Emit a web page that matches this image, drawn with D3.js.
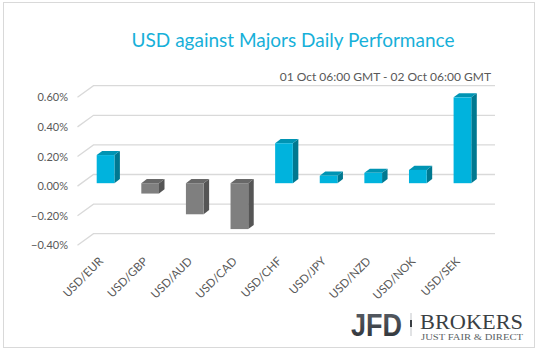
<!DOCTYPE html>
<html>
<head>
<meta charset="utf-8">
<script src="https://cdn.jsdelivr.net/npm/d3@7"></script>
<style>
  body { margin: 0; background: #fff; }
  svg { display: block; }
</style>
</head>
<body>
<div id="chart"><svg width="538" height="351"></svg></div>
<script>
const pairs = ['USD/EUR', 'USD/GBP', 'USD/AUD', 'USD/CAD', 'USD/CHF', 'USD/JPY', 'USD/NZD', 'USD/NOK', 'USD/SEK']
const changes = [0.19, -0.07, -0.21, -0.31, 0.27, 0.05, 0.07, 0.09, 0.58]
const yTicks = [-0.4, -0.2, 0, 0.2, 0.4, 0.6]

const svg = d3.select('#chart svg')
const font = 'Lato, "Open Sans", sans-serif'

// 3d offset of the back wall relative to the front edge
const depthX = 16
const depthY = -11.6

// outer frame
svg.append('rect')
    .attr('x', 3.5).attr('y', 2.5)
    .attr('width', 531).attr('height', 345)
    .attr('fill', '#fff')
    .attr('stroke', '#d9d9d9')

svg.append('text')
    .text('USD against Majors Daily Performance')
    .attr('x', 293).attr('y', 47)
    .attr('text-anchor', 'middle')
    .style('font-family', font)
    .style('font-size', '19px')
    .style('fill', '#17b0d9')

svg.append('text')
    .text('01 Oct 06:00 GMT - 02 Oct 06:00 GMT')
    .attr('x', 491).attr('y', 81)
    .attr('text-anchor', 'end')
    .style('font-family', font)
    .style('font-size', '12px')
    .style('fill', '#595959')

// front edge scales
const xScale = d3.scaleBand()
    .domain(pairs)
    .range([77.5, 479])

const yScale = d3.scaleLinear()
    .domain([-0.4, 0.6])
    .range([245.3, 97.3])

// gridlines: back wall line plus diagonal to the front edge
const grid = svg.append('g')
grid.selectAll('polyline')
    .data(yTicks)
    .join('polyline')
    .attr('points', d => {
        const y = yScale(d)
        return [[77.5, y], [77.5 + depthX, y + depthY], [479 + depthX, y + depthY]].join(' ')
    })
    .attr('fill', 'none')
    .attr('stroke', '#d9d9d9')
    .attr('stroke-width', 1.3)

svg.append('g')
    .selectAll('text')
    .data(yTicks)
    .join('text')
    .text(d => d3.format('.2f')(d) + '%')
    .attr('x', 68)
    .attr('y', d => yScale(d) + 4)
    .attr('text-anchor', 'end')
    .style('font-family', font)
    .style('font-size', '11px')
    .style('fill', '#595959')

// bars
const barW = 17.7
const barDx = 5.5
const barDy = -4.2
const barOffX = 19.2
const barOffY = -2.9

const colors = {
    up: { front: '#00b3dd', side: '#007890', top: '#0094b3' },
    down: { front: '#7f7f7f', side: '#555555', top: '#686868' }
}

const bars = svg.append('g')
    .selectAll('g')
    .data(changes)
    .join('g')

bars.each(function (d, i) {
    const g = d3.select(this)
    const c = d >= 0 ? colors.up : colors.down
    const x0 = xScale(pairs[i]) + barOffX
    const x1 = x0 + barW
    const yTop = yScale(Math.max(d, 0)) + barOffY
    const yBot = yScale(Math.min(d, 0)) + barOffY
    g.append('polygon')
        .attr('points', [[x1, yTop], [x1 + barDx, yTop + barDy], [x1 + barDx, yBot + barDy], [x1, yBot]].join(' '))
        .attr('fill', c.side)
    g.append('polygon')
        .attr('points', [[x0, yTop], [x0 + barDx, yTop + barDy], [x1 + barDx, yTop + barDy], [x1, yTop]].join(' '))
        .attr('fill', c.top)
    g.append('rect')
        .attr('x', x0).attr('y', yTop)
        .attr('width', barW).attr('height', yBot - yTop)
        .attr('fill', c.front)
})

// category labels
svg.append('g')
    .selectAll('text')
    .data(pairs)
    .join('text')
    .text(d => d)
    .attr('transform', d => `translate(${xScale(d) + xScale.bandwidth() / 2 + 4},262) rotate(-45)`)
    .attr('text-anchor', 'end')
    .style('font-family', font)
    .style('font-size', '11.5px')
    .style('fill', '#595959')

// logo
const logo = svg.append('g')
const grad = svg.append('defs').append('linearGradient')
    .attr('id', 'jfd').attr('x1', 0).attr('y1', 0).attr('x2', 0).attr('y2', 1)
grad.append('stop').attr('offset', '0%').attr('stop-color', '#5b6169')
grad.append('stop').attr('offset', '100%').attr('stop-color', '#2b2f34')

logo.append('text')
    .text('JFD')
    .attr('x', 351).attr('y', 336)
    .attr('textLength', 51).attr('lengthAdjust', 'spacingAndGlyphs')
    .style('font-family', '"Liberation Sans", Arial, sans-serif')
    .style('font-weight', 'bold')
    .style('font-size', '31px')
    .style('fill', 'url(#jfd)')

logo.append('line')
    .attr('x1', 411).attr('x2', 411).attr('y1', 313).attr('y2', 336)
    .attr('stroke', '#b4b8bc').attr('stroke-width', 0.8)
logo.append('rect')
    .attr('x', 410).attr('y', 320).attr('width', 2).attr('height', 7)
    .attr('fill', '#3a3f44')

logo.append('text')
    .text('BROKERS')
    .attr('x', 420).attr('y', 328.5)
    .attr('textLength', 103).attr('lengthAdjust', 'spacingAndGlyphs')
    .style('font-family', '"Liberation Serif", "DejaVu Serif", serif')
    .style('font-size', '22px')
    .style('fill', '#3a3f44')

logo.append('text')
    .text('JUST FAIR & DIRECT')
    .attr('x', 421).attr('y', 339.5)
    .attr('textLength', 102).attr('lengthAdjust', 'spacingAndGlyphs')
    .style('font-family', '"Liberation Serif", "DejaVu Serif", serif')
    .style('font-size', '7.5px')
    .style('fill', '#5a5f64')
</script>
</body>
</html>
